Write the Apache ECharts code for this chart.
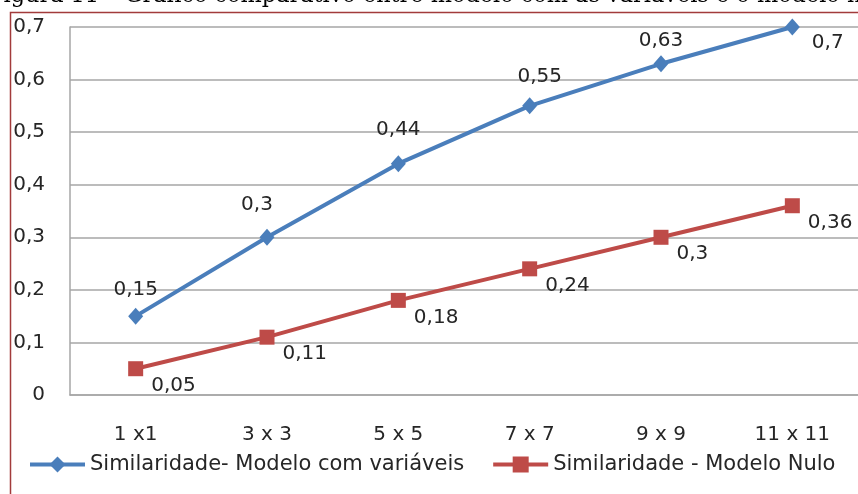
<!DOCTYPE html>
<html>
<head>
<meta charset="utf-8">
<script src="https://cdn.jsdelivr.net/npm/echarts@6/dist/echarts.min.js"></script>
<style>
  html, body { margin: 0; padding: 0; background: #ffffff; }
  #chart { width: 858px; height: 494px; }
</style>
</head>
<body>
<div id="chart"></div>
<script>
// Window sizes compared
const categories = ['1 x1', '3 x 3', '5 x 5', '7 x 7', '9 x 9', '11 x 11'];
// Similarity per model
const modelComVariaveis = [0.15, 0.3, 0.44, 0.55, 0.63, 0.7];
const modeloNulo = [0.05, 0.11, 0.18, 0.24, 0.3, 0.36];
const seriesNames = ['Similaridade- Modelo com variáveis', 'Similaridade - Modelo Nulo'];
const captionText = 'Figura 11 – Gráfico comparativo entre modelo com as variáveis e o modelo nulo';

// Small nudges [dx, dy] for the labels of the upper line
const upperLabelNudge = [[0, 4], [-10, -2], [0, -3], [10, 1], [0, 7], [0, 16]];

const FONT = 'DejaVu Sans';
const TEXT_COLOR = '#262626';
const BLUE = '#4A7EBB';
const RED = '#BE4B48';
const comma = v => String(v).replace('.', ',');

const chart = echarts.init(document.getElementById('chart'), null, { renderer: 'canvas' });

const upperData = modelComVariaveis.map((v, i) => {
  const last = i === modelComVariaveis.length - 1;
  return {
    value: v,
    label: last
      ? { position: 'right', distance: 12, offset: upperLabelNudge[i] }
      : { position: 'top', distance: 12, offset: upperLabelNudge[i] }
  };
});

chart.setOption({
  backgroundColor: '#ffffff',
  animation: false,
  textStyle: { fontFamily: FONT },
  grid: { left: 70, top: 27, width: 794, height: 368 },
  xAxis: {
    type: 'category',
    data: categories,
    boundaryGap: true,
    axisLine: { lineStyle: { color: '#A6A6A6', width: 1.5 } },
    axisTick: { show: false },
    axisLabel: { color: TEXT_COLOR, fontSize: 20, fontFamily: FONT, margin: 30 }
  },
  yAxis: {
    type: 'value',
    min: 0,
    max: 0.7,
    interval: 0.1,
    axisLine: { show: true, lineStyle: { color: '#A6A6A6', width: 1.5 } },
    axisTick: { show: false },
    splitLine: { lineStyle: { color: '#A6A6A6', width: 1.5 } },
    axisLabel: { color: TEXT_COLOR, fontSize: 20, fontFamily: FONT, margin: 25, formatter: comma }
  },
  legend: {
    left: 28,
    top: 454,
    padding: 0,
    itemWidth: 55,
    itemHeight: 20,
    itemGap: 27,
    lineStyle: { width: 4 },
    textStyle: { color: TEXT_COLOR, fontSize: 21, fontFamily: FONT },
    data: seriesNames
  },
  series: [
    {
      name: seriesNames[0],
      type: 'line',
      data: upperData,
      symbol: 'diamond',
      symbolSize: [15, 17],
      lineStyle: { color: BLUE, width: 4 },
      itemStyle: { color: BLUE },
      label: { show: true, color: TEXT_COLOR, fontSize: 20, fontFamily: FONT, formatter: p => comma(p.value) }
    },
    {
      name: seriesNames[1],
      type: 'line',
      data: modeloNulo,
      symbol: 'rect',
      symbolSize: 15,
      lineStyle: { color: RED, width: 4 },
      itemStyle: { color: RED },
      label: {
        show: true, position: 'right', distance: 8, offset: [0, 17],
        color: TEXT_COLOR, fontSize: 20, fontFamily: FONT, formatter: p => comma(p.value)
      }
    }
  ],
  graphic: [
    {
      type: 'rect',
      shape: { x: 10.5, y: 12.5, width: 900, height: 600 },
      style: { fill: null, stroke: '#A23B3B', lineWidth: 1.5 },
      silent: true
    },
    {
      type: 'text',
      x: -12,
      y: 7,
      style: {
        text: captionText,
        font: '22.4px "DejaVu Serif"',
        fill: '#000000',
        verticalAlign: 'bottom'
      },
      silent: true
    }
  ]
});
</script>
</body>
</html>
